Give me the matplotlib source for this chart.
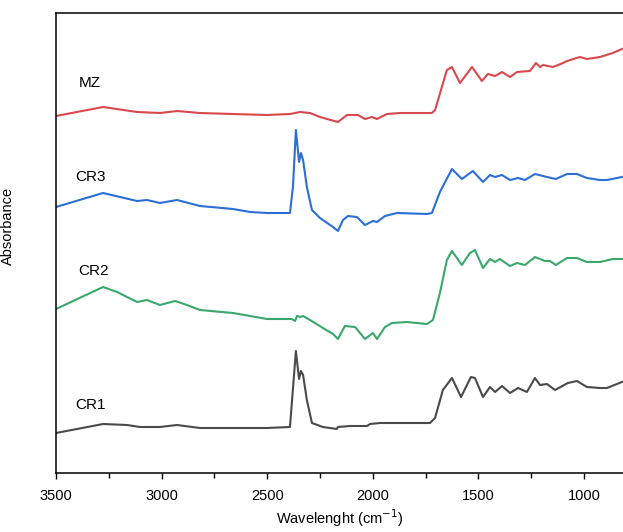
import numpy as np
import matplotlib
matplotlib.use("Agg")
import matplotlib.pyplot as plt
from matplotlib.ticker import MultipleLocator

plt.rcParams['font.family'] = ['Liberation Sans', 'DejaVu Sans']

# Espectros (numero de onda en cm-1, absorbancia en u.a. desplazada)
wn_mz = [3500, 3277, 3116, 3008, 2927, 2818, 2662, 2501, 2392, 2345, 2297, 2250, 2165, 2122,
         2070, 2037, 2004, 1980, 1933, 1871, 1720, 1705, 1649, 1625, 1587, 1530, 1483, 1455,
         1421, 1388, 1350, 1317, 1256, 1227, 1208, 1194, 1147, 1099, 1080, 1019, 986, 924, 863, 820]
abs_mz = [3.57, 3.66, 3.61, 3.60, 3.62, 3.60, 3.59, 3.58, 3.59, 3.61, 3.60, 3.56, 3.51, 3.58,
          3.58, 3.54, 3.56, 3.54, 3.59, 3.60, 3.60, 3.63, 4.03, 4.06, 3.90, 4.06, 3.92, 3.99,
          3.97, 4.01, 3.96, 4.01, 4.02, 4.10, 4.06, 4.08, 4.06, 4.10, 4.12, 4.16, 4.14, 4.16, 4.20, 4.24]

wn_cr3 = [3500, 3277, 3116, 3069, 3008, 2927, 2818, 2662, 2581, 2501, 2392, 2378, 2364, 2349,
          2340, 2330, 2312, 2288, 2250, 2188, 2165, 2141, 2117, 2075, 2037, 1999, 1980, 1942,
          1885, 1743, 1720, 1682, 1625, 1578, 1526, 1478, 1445, 1421, 1388, 1350, 1312, 1279,
          1232, 1175, 1133, 1080, 1033, 986, 924, 891, 820]
abs_cr3 = [2.66, 2.80, 2.72, 2.73, 2.70, 2.73, 2.67, 2.64, 2.61, 2.60, 2.60, 2.86, 3.43, 3.11,
           3.20, 3.13, 2.86, 2.63, 2.55, 2.46, 2.42, 2.53, 2.57, 2.56, 2.48, 2.52, 2.51, 2.57,
           2.60, 2.59, 2.60, 2.81, 3.04, 2.94, 3.02, 2.91, 2.98, 2.96, 2.98, 2.93, 2.95, 2.93,
           2.99, 2.96, 2.94, 2.99, 2.99, 2.95, 2.93, 2.93, 2.96]

wn_cr2 = [3500, 3277, 3211, 3116, 3069, 3008, 2936, 2880, 2818, 2662, 2501, 2383, 2368, 2359,
          2340, 2330, 2297, 2236, 2188, 2165, 2132, 2084, 2037, 1999, 1980, 1942, 1909, 1838,
          1743, 1715, 1682, 1649, 1625, 1578, 1540, 1516, 1478, 1445, 1421, 1398, 1350, 1317,
          1279, 1232, 1185, 1161, 1133, 1080, 1033, 986, 924, 863, 820]
abs_cr2 = [1.64, 1.86, 1.81, 1.71, 1.73, 1.68, 1.72, 1.68, 1.63, 1.60, 1.54, 1.54, 1.52, 1.57,
           1.56, 1.57, 1.53, 1.45, 1.39, 1.34, 1.47, 1.46, 1.34, 1.40, 1.34, 1.46, 1.50, 1.51,
           1.49, 1.53, 1.80, 2.13, 2.22, 2.08, 2.20, 2.23, 2.05, 2.14, 2.11, 2.14, 2.07, 2.10,
           2.08, 2.16, 2.12, 2.12, 2.08, 2.15, 2.15, 2.11, 2.11, 2.14, 2.14]

wn_cr1 = [3500, 3277, 3164, 3102, 3008, 2927, 2818, 2662, 2501, 2392, 2364, 2349, 2340, 2330,
          2312, 2288, 2236, 2170, 2165, 2108, 2027, 2013, 1966, 1729, 1705, 1668, 1625, 1582,
          1535, 1516, 1478, 1445, 1421, 1388, 1350, 1312, 1270, 1232, 1208, 1175, 1137, 1076,
          1033, 986, 924, 891, 820]
abs_cr1 = [0.40, 0.49, 0.48, 0.46, 0.46, 0.48, 0.45, 0.45, 0.45, 0.46, 1.22, 0.94, 1.02, 0.98,
           0.73, 0.50, 0.46, 0.44, 0.46, 0.47, 0.47, 0.49, 0.50, 0.50, 0.55, 0.83, 0.95, 0.76,
           0.96, 0.95, 0.76, 0.86, 0.81, 0.87, 0.80, 0.85, 0.81, 0.95, 0.88, 0.89, 0.83, 0.90,
           0.92, 0.86, 0.85, 0.85, 0.91]

muestras = ["MZ", "CR3", "CR2", "CR1"]
colores = ["#d9484c", "#2b6fd6", "#3aa86b", "#4a4a4a"]
# posicion de las etiquetas (cm-1, absorbancia)
etiq_x = [3391, 3410, 3396, 3410]
etiq_y = [3.90, 2.96, 2.02, 0.68]

fig = plt.figure(figsize=(6.23, 5.32), dpi=100)
ax = fig.add_axes([56 / 623, 1 - 473 / 532, 1 - 56 / 623, 460 / 532])

datos = [(wn_mz, abs_mz), (wn_cr3, abs_cr3), (wn_cr2, abs_cr2), (wn_cr1, abs_cr1)]
for (x, y), nombre, c, tx, ty in zip(datos, muestras, colores, etiq_x, etiq_y):
    ax.plot(x, y, color=c, lw=1.5, solid_joinstyle="round")
    ax.text(tx, ty, nombre, fontsize=11, va="center", ha="left")

ax.set_xlim(3500, 815)
ax.set_ylim(0, 4.6)
ax.xaxis.set_major_locator(MultipleLocator(500))
ax.xaxis.set_minor_locator(MultipleLocator(250))
ax.tick_params(axis="x", which="major", direction="out", length=4.5, width=1,
               labelsize=10.5, pad=7)
ax.tick_params(axis="x", which="minor", direction="out", length=3.5, width=1)
ax.set_yticks([])
ax.spines["right"].set_visible(False)
for s in ["left", "top", "bottom"]:
    ax.spines[s].set_linewidth(1.1)

ax.set_xlabel("Wavelenght (cm$^{-1}$)", fontsize=10.5, labelpad=3)
ax.set_ylabel("Absorbance", fontsize=10.5)
ax.yaxis.set_label_coords(-0.072, 0.537)

fig.savefig("out.png", dpi=100)
